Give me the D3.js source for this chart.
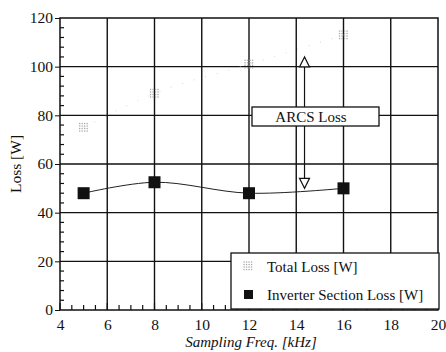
<!DOCTYPE html>
<html>
<head>
<meta charset="utf-8">
<script src="https://cdn.jsdelivr.net/npm/d3@7"></script>
<style>
  body { margin: 0; background: #fff; }
  #chart, #chart text { font-family: 'Liberation Serif', 'Times New Roman', serif; }
</style>
</head>
<body>
<svg id="chart" width="446" height="352"></svg>
<script>
// data
let freqs = [5, 8, 12, 16];
let totalLoss = [75, 89, 101, 113];
let inverterLoss = [48, 52.5, 48, 50];
let xTicks = [4, 6, 8, 10, 12, 14, 16, 18, 20];
let yTicks = [0, 20, 40, 60, 80, 100, 120];
let arcsX = 14.35;
let arcsTop = 104;
let arcsBottom = 50;

let svg = d3.select('#chart');
let w = +svg.attr('width');
let h = +svg.attr('height');

let x = d3.scaleLinear().domain([4, 20]).range([60, 438]);
let y = d3.scaleLinear().domain([0, 120]).range([310, 18]);

svg.append('rect').attr('width', w).attr('height', h).attr('fill', 'white');

// grid
let grid = svg.append('g');
grid.selectAll('line.gx').data(xTicks.slice(1, -1)).enter().append('line')
  .attr('x1', d => x(d)).attr('x2', d => x(d))
  .attr('y1', y(0)).attr('y2', y(120))
  .attr('stroke', '#111').attr('stroke-width', 1.4);
grid.selectAll('line.gy').data(yTicks.slice(1, -1)).enter().append('line')
  .attr('x1', x(4)).attr('x2', x(20))
  .attr('y1', d => y(d)).attr('y2', d => y(d))
  .attr('stroke', '#111').attr('stroke-width', 1.4);

// minor ticks, pointing inward
let minorX = d3.range(4, 20.01, 0.5);
let minorY = d3.range(0, 120.01, 4);
svg.append('g').selectAll('line').data(minorX).enter().append('line')
  .attr('x1', d => x(d)).attr('x2', d => x(d))
  .attr('y1', y(0)).attr('y2', d => y(0) - (d % 2 === 0 ? 7 : 5))
  .attr('stroke', '#111').attr('stroke-width', 1.2);
svg.append('g').selectAll('line').data(minorY).enter().append('line')
  .attr('x1', x(4)).attr('x2', d => x(4) + (d % 20 === 0 ? 0 : 4))
  .attr('y1', d => y(d)).attr('y2', d => y(d))
  .attr('stroke', '#111').attr('stroke-width', 1.2);

// frame
svg.append('rect')
  .attr('x', x(4)).attr('y', y(120))
  .attr('width', x(20) - x(4)).attr('height', y(0) - y(120))
  .attr('fill', 'none').attr('stroke', '#111').attr('stroke-width', 1.5);

// axes labels
let xAxis = d3.axisBottom(x).tickValues(xTicks).tickSize(0).tickPadding(9);
svg.append('g').attr('transform', `translate(0,${y(0)})`).call(xAxis)
  .attr('font-family', null)
  .call(g => g.select('.domain').remove())
  .selectAll('text').attr('font-size', 15.5).attr('fill', '#111');

let yAxis = d3.axisLeft(y).tickValues(yTicks).tickSize(5).tickPadding(2);
svg.append('g').attr('transform', `translate(${x(4)},0)`).call(yAxis)
  .attr('font-family', null)
  .call(g => g.select('.domain').remove())
  .call(g => g.selectAll('line').attr('stroke', '#111'))
  .selectAll('text').attr('font-size', 15.5).attr('fill', '#111');

svg.append('text')
  .attr('transform', `translate(21,${(y(0) + y(120)) / 2}) rotate(-90)`)
  .attr('text-anchor', 'middle')
  .attr('font-size', 15.5).attr('fill', '#111')
  .text('Loss [W]');

svg.append('text')
  .attr('x', 251).attr('y', 347)
  .attr('text-anchor', 'middle')
  .attr('font-size', 15).attr('font-style', 'italic').attr('fill', '#111')
  .text('Sampling Freq. [kHz]');

// total loss: faint dotted trace plus dotted squares
let totalPts = freqs.map((f, i) => [f, totalLoss[i]]);
svg.append('path')
  .datum(totalPts)
  .attr('d', d3.line().x(d => x(d[0])).y(d => y(d[1])).curve(d3.curveMonotoneX))
  .attr('fill', 'none').attr('stroke', '#ccc').attr('stroke-width', 0.8)
  .attr('stroke-dasharray', '1 11');

function dotSquare(g, cx, cy) {
  let offs = [-4, -1.5, 1, 3.5];
  offs.forEach(dx => offs.forEach(dy => {
    g.append('rect').attr('x', cx + dx - 0.6).attr('y', cy + dy - 0.6)
      .attr('width', 1.3).attr('height', 1.3).attr('fill', '#aaa');
  }));
}
let totalG = svg.append('g');
totalPts.forEach(d => dotSquare(totalG, x(d[0]), y(d[1])));

// inverter section loss
let invPts = freqs.map((f, i) => [f, inverterLoss[i]]);
svg.append('path')
  .datum(invPts)
  .attr('d', d3.line().x(d => x(d[0])).y(d => y(d[1])).curve(d3.curveCatmullRom.alpha(0.5)))
  .attr('fill', 'none').attr('stroke', '#222').attr('stroke-width', 1);
svg.append('g').selectAll('rect').data(invPts).enter().append('rect')
  .attr('x', d => x(d[0]) - 6).attr('y', d => y(d[1]) - 6)
  .attr('width', 12).attr('height', 12).attr('fill', '#111');

// ARCS loss annotation
let ax = x(arcsX);
svg.append('line')
  .attr('x1', ax).attr('x2', ax)
  .attr('y1', y(arcsTop) + 10).attr('y2', y(arcsBottom) - 10)
  .attr('stroke', '#111').attr('stroke-width', 1.2);
svg.append('path')
  .attr('d', `M${ax},${y(arcsTop)} L${ax - 5},${y(arcsTop) + 10} L${ax + 5},${y(arcsTop) + 10} Z`)
  .attr('fill', 'white').attr('stroke', '#111').attr('stroke-width', 1.2);
svg.append('path')
  .attr('d', `M${ax},${y(arcsBottom)} L${ax - 5},${y(arcsBottom) - 10} L${ax + 5},${y(arcsBottom) - 10} Z`)
  .attr('fill', 'white').attr('stroke', '#111').attr('stroke-width', 1.2);
svg.append('rect')
  .attr('x', 252).attr('y', 107).attr('width', 127).attr('height', 19)
  .attr('fill', 'white').attr('stroke', '#111').attr('stroke-width', 1.3);
svg.append('text')
  .attr('x', 311).attr('y', 122).attr('text-anchor', 'middle')
  .attr('font-size', 15).attr('fill', '#111')
  .text('ARCS Loss');

// legend
let leg = svg.append('g');
leg.append('rect')
  .attr('x', 231).attr('y', 253).attr('width', 208).attr('height', 56)
  .attr('fill', 'white').attr('stroke', '#111').attr('stroke-width', 1.3);
dotSquare(leg, 248, 266);
leg.append('text').attr('x', 267).attr('y', 272)
  .attr('font-size', 15).attr('fill', '#111').text('Total Loss [W]');
leg.append('rect').attr('x', 244).attr('y', 290).attr('width', 9).attr('height', 9).attr('fill', '#111');
leg.append('text').attr('x', 267).attr('y', 300)
  .attr('font-size', 15).attr('fill', '#111').text('Inverter Section Loss [W]');
</script>
</body>
</html>
